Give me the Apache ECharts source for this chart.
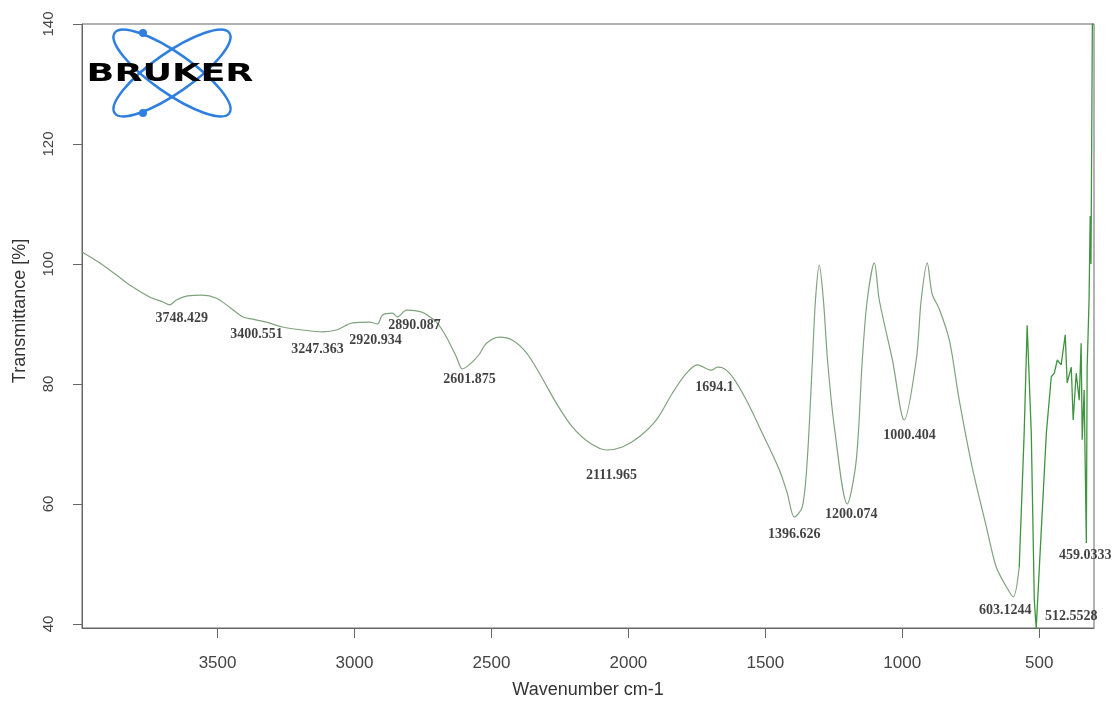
<!DOCTYPE html>
<html>
<head>
<meta charset="utf-8">
<script src="https://cdn.jsdelivr.net/npm/echarts@6/dist/echarts.min.js"></script>
<style>
  html, body { margin: 0; padding: 0; background: #fff; }
  #chart { width: 1119px; height: 702px; }
</style>
</head>
<body>
<div id="chart"></div>
<script>
// spectrum (x in axis units as drawn)
const wavenumbers = [
  3995, 3931, 3850, 3821, 3748, 3701, 3675, 3650, 3609, 3555, 3504, 3456, 3409, 3372,
  3321, 3263, 3190, 3117, 3066, 3007, 2945, 2916, 2898, 2861, 2843, 2810, 2774, 2745,
  2701, 2664, 2628, 2606, 2569, 2544, 2518, 2471, 2423, 2372, 2325, 2263, 2204, 2142,
  2080, 2022, 1960, 1898, 1839, 1788, 1748, 1697, 1675, 1657, 1620, 1569, 1511, 1449,
  1420, 1394, 1365, 1347, 1328, 1317, 1303, 1288, 1273, 1248, 1201, 1168, 1146, 1128,
  1102, 1084, 1036, 993, 949, 931, 909, 891, 865, 828, 792, 745, 693, 657, 620, 595,
  573, 555, 544, 529, 518, 511, 493, 474, 456, 445, 434, 420, 405, 398, 383, 376, 365,
  354, 347, 343, 336, 328, 325, 318, 314, 311, 306, 302
];
const transmittance = [
  102.0, 100.2, 97.5, 96.5, 94.5, 93.7, 93.2, 94.0, 94.7, 94.8, 94.3, 92.8, 91.2, 90.8,
  90.3, 89.5, 89.0, 88.7, 89.0, 90.2, 90.3, 90.0, 91.5, 91.8, 91.2, 92.3, 92.2, 91.8,
  90.3, 87.8, 84.5, 82.5, 83.7, 85.0, 86.8, 87.8, 87.3, 85.2, 81.8, 76.8, 72.8, 70.2,
  69.0, 69.5, 71.2, 74.0, 78.5, 81.8, 83.2, 82.3, 82.8, 82.7, 81.2, 77.3, 71.8, 65.7,
  61.8, 57.8, 59.5, 67.3, 84.0, 94.0, 99.8, 94.0, 84.0, 72.8, 60.0, 67.3, 84.0, 94.0,
  100.2, 94.0, 84.0, 74.0, 84.0, 94.0, 100.2, 95.0, 92.5, 87.3, 77.3, 66.2, 56.2, 49.5, 46.2, 44.5,
  49.5, 71.8, 89.8, 71.8, 44.0, 39.3, 55.2, 71.8, 81.2, 81.8, 84.0, 83.2, 88.2, 80.2, 82.8, 74.0, 81.8,
  77.3, 86.8, 70.7, 79.0, 53.5, 82.8, 94.0, 108.0, 100.0, 140.0, 140.0
];
// the curve is drawn darker green below this wavenumber
const darkFrom = 573;

// peak annotations: text, and where the label sits (axis units)
const peakNames = ['3748.429', '3400.551', '3247.363', '2920.934', '2890.087', '2601.875',
  '2111.965', '1694.1', '1396.626', '1200.074', '1000.404', '603.1244', '512.5528', '459.0333'];
const peakLabelX = [3631, 3358, 3135, 2923, 2781, 2580, 2062, 1686, 1394, 1186, 974, 624, 383, 332];
const peakLabelY = [91.0, 88.2, 85.7, 87.3, 89.8, 80.7, 64.7, 79.5, 55.0, 58.2, 71.5, 42.3, 41.2, 51.5];

const xTicks = [500, 1000, 1500, 2000, 2500, 3000, 3500];
const yTicks = [40, 60, 80, 100, 120, 140];

const chart = echarts.init(document.getElementById('chart'));

const spectrum = wavenumbers.map((w, i) => [w, transmittance[i]]);
const lightPart = spectrum.filter(p => p[0] >= darkFrom);
const darkPart = spectrum.filter(p => p[0] <= darkFrom);
const peaks = peakNames.map((n, i) => ({ name: n, value: [peakLabelX[i], peakLabelY[i]] }));

const logoBlue = '#2f7fe0';
const plain = v => String(v);

chart.setOption({
  animation: false,
  backgroundColor: '#fff',
  grid: {
    left: 82, right: 25, top: 24, bottom: 74,
    show: true, borderColor: '#666', borderWidth: 1,
    outerBoundsMode: 'none'
  },
  xAxis: {
    type: 'value',
    inverse: true,
    min: 300,
    max: 3995,
    name: 'Wavenumber cm-1',
    nameLocation: 'middle',
    nameGap: 53,
    nameTextStyle: { fontFamily: 'Liberation Sans', fontSize: 18, color: '#333' },
    axisLine: { show: true, lineStyle: { color: '#666' } },
    axisTick: { show: true, length: 10, customValues: xTicks, lineStyle: { color: '#666' } },
    axisLabel: {
      customValues: xTicks, margin: 27, formatter: plain,
      fontFamily: 'Liberation Sans', fontSize: 17, color: '#444'
    },
    splitLine: { show: false }
  },
  yAxis: {
    type: 'value',
    min: 39.33,
    max: 140,
    axisLine: { show: true, lineStyle: { color: '#666' } },
    axisTick: { show: true, length: 9, customValues: yTicks, lineStyle: { color: '#666' } },
    axisLabel: {
      customValues: yTicks, rotate: 90, margin: 26, formatter: plain,
      fontFamily: 'Liberation Sans', fontSize: 15, color: '#444'
    },
    splitLine: { show: false }
  },
  series: [
    {
      type: 'line',
      data: lightPart,
      showSymbol: false,
      smooth: 0.3,
      lineStyle: { width: 1.2, color: '#7fa37d' },
      silent: true
    },
    {
      type: 'line',
      data: darkPart,
      showSymbol: false,
      lineStyle: { width: 1.3, color: '#3f943f' },
      silent: true
    },
    {
      type: 'scatter',
      data: peaks,
      symbolSize: 0,
      silent: true,
      z: 5,
      label: {
        show: true,
        position: 'inside',
        formatter: '{b}',
        fontFamily: 'Liberation Serif',
        fontWeight: 'bold',
        fontSize: 14,
        color: '#111'
      }
    }
  ],
  graphic: [
    {
      type: 'text', x: 20, y: 311, rotation: Math.PI / 2,
      style: {
        text: 'Transmittance [%]', fontFamily: 'Liberation Sans', fontSize: 18,
        fill: '#333', textAlign: 'center', textVerticalAlign: 'middle'
      }
    },
    {
      type: 'group', x: 172, y: 73,
      children: [
        { type: 'ellipse', rotation: 35 * Math.PI / 180, shape: { cx: 0, cy: 0, rx: 70, ry: 20 },
          style: { fill: 'none', stroke: logoBlue, lineWidth: 2.5 } },
        { type: 'ellipse', rotation: -35 * Math.PI / 180, shape: { cx: 0, cy: 0, rx: 70, ry: 20 },
          style: { fill: 'none', stroke: logoBlue, lineWidth: 2.5 } },
        { type: 'circle', shape: { cx: -29, cy: -40, r: 4 }, style: { fill: logoBlue } },
        { type: 'circle', shape: { cx: -29, cy: 40, r: 4 }, style: { fill: logoBlue } },
        { type: 'text', x: -2, y: 1, scaleX: 1.46,
          style: {
            text: 'BRUKER', fontFamily: 'DejaVu Sans', fontWeight: 'bold', fontSize: 25,
            fill: '#000', textAlign: 'center', textVerticalAlign: 'middle'
          } }
      ]
    }
  ]
});
</script>
</body>
</html>
